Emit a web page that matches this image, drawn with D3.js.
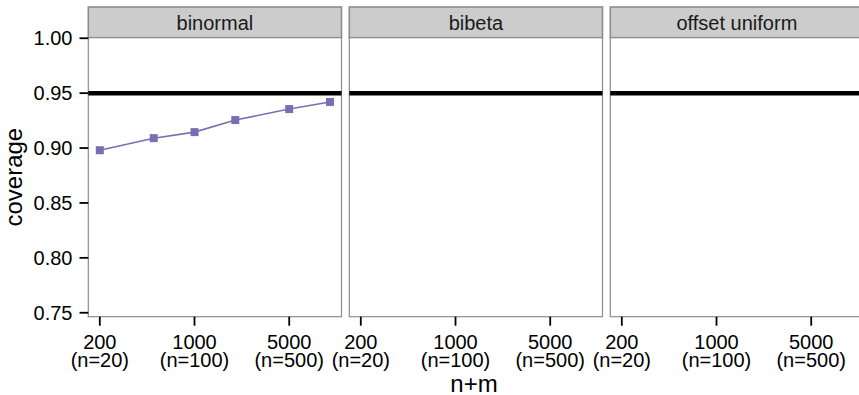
<!DOCTYPE html>
<html>
<head>
<meta charset="utf-8">
<script src="https://cdn.jsdelivr.net/npm/d3@7"></script>
<style>
  body { margin: 0; background: #fff; }
  svg { display: block; font-family: "Liberation Sans", Arial, sans-serif; }
</style>
</head>
<body>
<div id="chart"></div>
<script>
// data
const facets = ["binormal", "bibeta", "offset uniform"];
const nPlusM = [200, 500, 1000, 2000, 5000, 10000];
const binormalCoverage = [0.898, 0.909, 0.9145, 0.9255, 0.9355, 0.942];
const bibetaCoverage = [];
const offsetUniformCoverage = [];
const nominal = 0.95;
const xTicks = [200, 1000, 5000];
const xTickLabels = [["200", "(n=20)"], ["1000", "(n=100)"], ["5000", "(n=500)"]];
const yTicks = [0.75, 0.80, 0.85, 0.90, 0.95, 1.00];

const series = {
  "binormal": binormalCoverage,
  "bibeta": bibetaCoverage,
  "offset uniform": offsetUniformCoverage
};

const width = 859, height = 395;
const panelLeft = 88.3, panelW = 253.2, panelGap = 7.8;
const stripTop = 7, panelTop = 37.7, panelBottom = 316.7;

const svg = d3.select("#chart")
  .append("svg")
  .attr("width", width)
  .attr("height", height);

const lo = Math.log10(200), hi = Math.log10(10000);
const pad = (hi - lo) * 0.05;
const x = d3.scaleLog()
  .domain([Math.pow(10, lo - pad), Math.pow(10, hi + pad)])
  .range([0, panelW]);

const y = d3.scaleLinear()
  .domain([0.7464, 1.0005])
  .range([panelBottom, panelTop]);

facets.forEach((name, i) => {
  const g = svg.append("g")
    .attr("transform", `translate(${panelLeft + i * (panelW + panelGap)},0)`);

  // strip
  g.append("rect")
    .attr("x", 0).attr("y", stripTop)
    .attr("width", panelW).attr("height", panelTop - stripTop)
    .attr("fill", "#cccccc")
    .attr("stroke", "#8c8c8c")
    .attr("stroke-width", 1.6);
  g.append("text")
    .attr("x", panelW / 2)
    .attr("y", 30)
    .attr("text-anchor", "middle")
    .attr("font-size", 20)
    .attr("fill", "#1a1a1a")
    .text(name);

  // panel
  g.append("rect")
    .attr("x", 0).attr("y", panelTop)
    .attr("width", panelW).attr("height", panelBottom - panelTop)
    .attr("fill", "#fff")
    .attr("stroke", "#8c8c8c")
    .attr("stroke-width", 1.2);

  // nominal level
  g.append("line")
    .attr("x1", 0).attr("x2", panelW)
    .attr("y1", y(nominal)).attr("y2", y(nominal))
    .attr("stroke", "#000")
    .attr("stroke-width", 4.5);

  const vals = series[name];
  const pts = vals.map((v, k) => ({x: nPlusM[k], y: v}));

  g.append("path")
    .datum(pts)
    .attr("fill", "none")
    .attr("stroke", "#7570b3")
    .attr("stroke-width", 1.6)
    .attr("d", d3.line().x(d => x(d.x)).y(d => y(d.y)));

  g.selectAll(".pt")
    .data(pts)
    .enter().append("rect")
    .attr("class", "pt")
    .attr("x", d => x(d.x) - 4)
    .attr("y", d => y(d.y) - 4)
    .attr("width", 8).attr("height", 8)
    .attr("fill", "#7570b3");

  // x axis
  const xa = g.append("g");
  xTicks.forEach((t, k) => {
    xa.append("line")
      .attr("x1", x(t)).attr("x2", x(t))
      .attr("y1", panelBottom).attr("y2", panelBottom + 9)
      .attr("stroke", "#000").attr("stroke-width", 1.8);
    const tx = xa.append("text")
      .attr("text-anchor", "middle")
      .attr("font-size", 20)
      .attr("fill", "#000");
    tx.append("tspan").attr("x", x(t)).attr("y", 349).text(xTickLabels[k][0]);
    tx.append("tspan").attr("x", x(t)).attr("y", 367).text(xTickLabels[k][1]);
  });
});

// y axis
const ya = svg.append("g");
yTicks.forEach(t => {
  ya.append("line")
    .attr("x1", 79.5).attr("x2", panelLeft)
    .attr("y1", y(t)).attr("y2", y(t))
    .attr("stroke", "#000").attr("stroke-width", 1.8);
  ya.append("text")
    .attr("x", 72.5)
    .attr("y", y(t) + 7)
    .attr("text-anchor", "end")
    .attr("font-size", 20)
    .attr("fill", "#000")
    .text(d3.format(".2f")(t));
});

// axis titles
svg.append("text")
  .attr("transform", `translate(22,${(panelTop + panelBottom) / 2}) rotate(-90)`)
  .attr("text-anchor", "middle")
  .attr("font-size", 24)
  .text("coverage");

svg.append("text")
  .attr("x", 474)
  .attr("y", 392)
  .attr("text-anchor", "middle")
  .attr("font-size", 24)
  .text("n+m");
</script>
</body>
</html>
